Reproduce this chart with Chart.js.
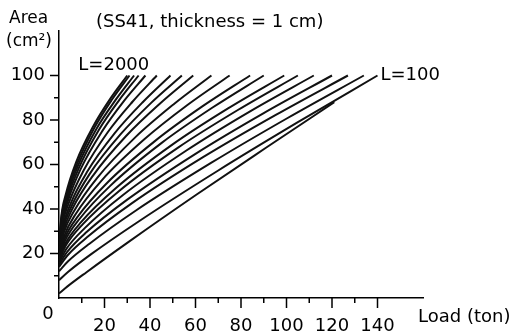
<!DOCTYPE html>
<html>
<head>
<meta charset="utf-8">
<script src="https://cdn.jsdelivr.net/npm/chart.js@4"></script>
<style>
  html, body { margin: 0; padding: 0; background: #fff; }
  canvas { display: block; }
</style>
</head>
<body>
<canvas id="areaChart" width="516" height="333"></canvas>
<script>
// data: one row per curve, lowest curve first, L=2000 last
var loads = [
  [0, 3.6, 12.1, 30.3, 60.5, 90.8, 121],
  [0, 4.2, 14, 35, 70, 105, 140],
  [0, 4.0, 13.4, 33.5, 67, 100.5, 134],
  [0, 3.8, 12.7, 31.8, 63.5, 95.3, 127],
  [0, 3.6, 12, 30, 60, 90, 120],
  [0, 3.4, 11.2, 28, 56, 84, 112],
  [0, 3.2, 10.5, 26.3, 52.5, 78.8, 105],
  [0, 3.0, 9.9, 24.8, 49.5, 74.3, 99],
  [0, 2.7, 9, 22.5, 45, 67.5, 90],
  [0, 2.5, 8.4, 21, 42, 63, 84],
  [0, 2.3, 7.5, 18.8, 37.5, 56.3, 75],
  [0, 2.0, 6.7, 16.8, 33.5, 50.3, 67],
  [0, 1.8, 5.9, 14.8, 29.5, 44.3, 59],
  [0, 1.6, 5.4, 13.5, 27, 40.5, 54],
  [0, 1.5, 4.9, 12.3, 24.5, 36.8, 49],
  [0, 1.3, 4.3, 10.8, 21.5, 32.3, 43],
  [0, 1.1, 3.8, 9.5, 19, 28.5, 38],
  [0, 1.1, 3.5, 8.8, 17.5, 26.3, 35],
  [0, 1.0, 3.3, 8.3, 16.5, 24.8, 33],
  [0, 0.9, 3.1, 7.8, 15.5, 23.3, 31],
  [0, 0.9, 3, 7.5, 15, 22.5, 30]
];
var areas = [
  [2, 5.1, 11.6, 25.0, 46.5, 67.4, 88],
  [8, 11.9, 19.6, 34.4, 57.3, 79.0, 100],
  [12, 16.5, 24.4, 39.1, 60.8, 80.9, 100],
  [14, 19.2, 27.6, 42.4, 63.4, 82.3, 100],
  [15, 20.7, 29.5, 44.2, 64.8, 83.1, 100],
  [16, 22.3, 31.3, 46.2, 66.3, 83.9, 100],
  [17, 23.9, 33.2, 48.0, 67.7, 84.6, 100],
  [17.5, 24.8, 34.3, 49.2, 68.7, 85.2, 100],
  [18, 25.8, 35.5, 50.4, 69.6, 85.6, 100],
  [18.5, 26.8, 36.8, 51.6, 70.4, 86.1, 100],
  [19, 27.9, 38.0, 52.9, 71.3, 86.6, 100],
  [19.5, 29.0, 39.2, 54.0, 72.2, 87.0, 100],
  [20, 29.8, 40.1, 54.8, 72.8, 87.3, 100],
  [20, 30.5, 41.0, 55.8, 73.5, 87.7, 100],
  [20.5, 31.2, 41.9, 56.6, 74.1, 88.0, 100],
  [21, 32.1, 42.7, 57.3, 74.6, 88.2, 100],
  [21, 32.5, 43.3, 57.9, 75.0, 88.5, 100],
  [21.5, 33.3, 44.1, 58.6, 75.5, 88.7, 100],
  [22, 34.2, 45.0, 59.4, 76.1, 88.9, 100],
  [22, 34.6, 45.6, 59.9, 76.4, 89.2, 100],
  [22, 35.5, 46.6, 61.0, 77.1, 89.5, 100]
];
var xMajor = [20, 40, 60, 80, 100, 120, 140];
var xMinor = [10, 30, 50, 70, 90, 110, 130];
var yMajor = [20, 40, 60, 80, 100];
var yMinor = [10, 30, 50, 70, 90];

var FONT = '"DejaVu Sans", sans-serif';

//build datasets from the rows
var sets = [];
for (var i = 0; i < loads.length; i++) {
  var pts = [];
  for (var j = 0; j < loads[i].length; j++) {
    pts.push({x: loads[i][j], y: areas[i][j]});
  }
  sets.push({
    data: pts,
    borderColor: '#111',
    borderWidth: 2,
    pointRadius: 0,
    fill: false,
    cubicInterpolationMode: 'monotone'
  });
}

// extra marks: short tick marks and the free texts
var extras = {
  id: 'extras',
  afterDraw: function(chart) {
    var ctx = chart.ctx;
    var xs = chart.scales.x, ys = chart.scales.y;
    var x0 = xs.left, y0 = ys.bottom;
    ctx.save();
    ctx.strokeStyle = '#000';
    ctx.lineWidth = 1.5;
    ctx.beginPath();
    yMajor.forEach(function(v) { var p = ys.getPixelForValue(v); ctx.moveTo(x0 - 9, p); ctx.lineTo(x0, p); });
    yMinor.forEach(function(v) { var p = ys.getPixelForValue(v); ctx.moveTo(x0 - 5, p); ctx.lineTo(x0, p); });
    xMajor.forEach(function(v) { var p = xs.getPixelForValue(v); ctx.moveTo(p, y0); ctx.lineTo(p, y0 + 10); });
    xMinor.forEach(function(v) { var p = xs.getPixelForValue(v); ctx.moveTo(p, y0); ctx.lineTo(p, y0 + 5); });
    ctx.stroke();

    ctx.fillStyle = '#000';
    ctx.textBaseline = 'middle';
    ctx.textAlign = 'left';
    ctx.font = '17px ' + FONT;
    ctx.fillText('Area', 9, 19);
    ctx.fillText('(cm\u00B2)', 6, 42);
    ctx.font = '18px ' + FONT;
    ctx.fillText('(SS41, thickness = 1 cm)', 96, 22);
    ctx.fillText('L=2000', xs.getPixelForValue(8.5), ys.getPixelForValue(104.5));
    ctx.fillText('L=100', xs.getPixelForValue(140) + 3, ys.getPixelForValue(100));
    ctx.fillText('Load (ton)', 418, 317);
    ctx.textAlign = 'center';
    ctx.fillText('0', 48, 314);
    ctx.restore();
  }
};

var ctxA = document.getElementById('areaChart').getContext('2d');
var areaChart = new Chart(ctxA, {
  type: 'line',
  data: { datasets: sets },
  options: {
    responsive: false,
    animation: false,
    layout: { padding: { left: 0, top: 31, right: 93, bottom: 0 } },
    plugins: { legend: { display: false }, tooltip: { enabled: false } },
    scales: {
      x: {
        type: 'linear',
        min: 0, max: 160,
        afterFit: function(s) { s.height = 35; },
        grid: { drawOnChartArea: false, drawTicks: false },
        border: { display: true, color: '#000', width: 1.5 },
        ticks: {
          stepSize: 20, autoSkip: false, maxRotation: 0, padding: 18,
          color: '#000', font: { family: FONT, size: 18 },
          callback: function(v) { return xMajor.indexOf(v) >= 0 ? String(v) : ''; }
        }
      },
      y: {
        type: 'linear',
        min: 0, max: 120,
        afterFit: function(s) { s.width = 59; },
        grid: { drawOnChartArea: false, drawTicks: false },
        border: { display: true, color: '#000', width: 1.5 },
        ticks: {
          stepSize: 20, autoSkip: false, padding: 14,
          color: '#000', font: { family: FONT, size: 18 },
          callback: function(v) { return yMajor.indexOf(v) >= 0 ? String(v) : ''; }
        }
      }
    }
  },
  plugins: [extras]
});
</script>
</body>
</html>
